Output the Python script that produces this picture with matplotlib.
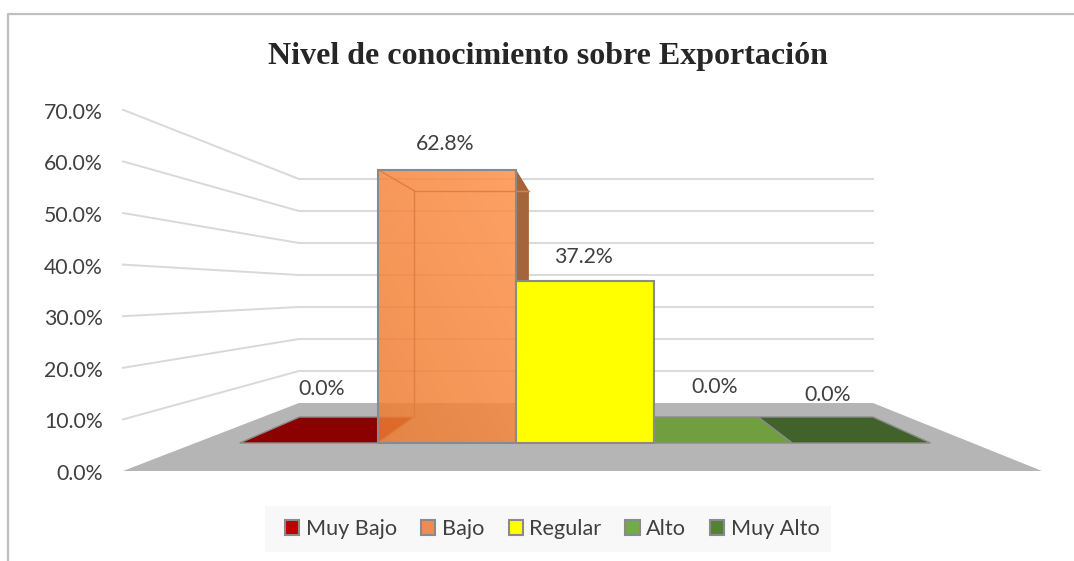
import numpy as np
import matplotlib
matplotlib.use('Agg')
import matplotlib.pyplot as plt
from matplotlib.patches import Patch, Polygon, Rectangle

categorias = ['Muy Bajo', 'Bajo', 'Regular', 'Alto', 'Muy Alto']
valores = [0.0, 62.8, 37.2, 0.0, 0.0]
ticks = [0, 10, 20, 30, 40, 50, 60, 70]

col_piso = ['#8B0000', '#ED7D31', '#FFFF00', '#6F9F3F', '#41622A']
col_leyenda = ['#C00000', '#F08C50', '#FFFF00', '#70AD47', '#548235']
GRIS = '#8A8A8A'
TEXTO = '#404040'

plt.rcParams['font.family'] = ['Lato', 'DejaVu Sans']

# perspectiva del grafico 3D: d=0 frente del piso, d=1 fondo
D_FRENTE, D_FONDO = 0.412, 0.794

def proy(u, d, v=0):
    izq = 123 + 176 * d
    der = 1042 - 169 * d
    return izq + (der - izq) * u, 471 - 68 * d - v * (5.16 - 1.96 * d)

def cat_u(i):
    return 0.057 + 0.889 * i / len(categorias)

fig = plt.figure(figsize=(10.74, 5.61), dpi=100)
ax = fig.add_axes([0, 0, 1, 1])
ax.set_xlim(0, 1074)
ax.set_ylim(561, 0)
ax.axis('off')

# marco
ax.plot([8, 8, 1074], [561, 14, 14], color='#BFBFBF', lw=1.6, zorder=1)

# lineas de la pared
for t in ticks[1:]:
    xs = [proy(0, 0, t)[0], proy(0, 1, t)[0], proy(1, 1, t)[0]]
    ys = [proy(0, 0, t)[1], proy(0, 1, t)[1], proy(1, 1, t)[1]]
    ax.plot(xs, ys, color='#D9D9D9', lw=1.4, zorder=2)

for t in ticks:
    ax.text(103, proy(0, 0, t)[1] + 3, f'{t:.1f}%', ha='right', va='center', fontsize=15.3, color=TEXTO)

# piso
ax.add_patch(Polygon([proy(0, 0), proy(1, 0), proy(1, 1), proy(0, 1)], fc='#B5B5B5', ec='none', zorder=3))
for i, c in enumerate(col_piso):
    celda = [proy(cat_u(i), D_FRENTE), proy(cat_u(i + 1), D_FRENTE), proy(cat_u(i + 1), D_FONDO), proy(cat_u(i), D_FONDO)]
    if valores[i] == 0:
        ax.add_patch(Polygon(celda, fc=c, ec=GRIS, lw=1.0, zorder=4))

# barras
for i, v in enumerate(valores):
    if v == 0:
        continue
    u0, u1 = cat_u(i), cat_u(i + 1)
    z = 5 + i
    fr = [proy(u0, D_FRENTE), proy(u1, D_FRENTE), proy(u1, D_FRENTE, v), proy(u0, D_FRENTE, v)]
    fo = [proy(u0, D_FONDO), proy(u1, D_FONDO), proy(u1, D_FONDO, v), proy(u0, D_FONDO, v)]
    if col_piso[i] == '#ED7D31':
        # cara lateral y aristas internas, la barra naranja es translucida
        ax.add_patch(Polygon([fr[2], fo[2], fo[1], fr[1]], fc='#A5653A', ec='none', zorder=z))
        xs = np.linspace(0, 1, 64)
        grad = np.zeros((64, 64, 4))
        ini, fin = np.array(matplotlib.colors.to_rgb('#ED7D31')), np.array(matplotlib.colors.to_rgb('#FD9148'))
        for a in range(64):
            for b in range(64):
                grad[a, b, :3] = ini + (fin - ini) * (xs[b] + (1 - xs[a])) / 2
        grad[:, :, 3] = 0.85
        ax.imshow(grad, extent=[fr[0][0], fr[1][0], fr[0][1], fr[3][1]], aspect='auto', zorder=z + 0.1, origin='upper')
        ax.set_xlim(0, 1074)
        ax.set_ylim(561, 0)
        for p, q in [(fr[3], fo[3]), (fo[3], fo[0]), (fo[3], fo[2])]:
            ax.plot([p[0], q[0]], [p[1], q[1]], color='#E07F42', lw=1.0, zorder=z + 0.2)
        ax.add_patch(Polygon(fr, fc='none', ec=GRIS, lw=1.5, zorder=z + 0.3))
    else:
        ax.add_patch(Polygon(fr, fc=col_piso[i], ec=GRIS, lw=1.5, zorder=z))

# etiquetas de datos
pos_etq = [(322, 389), (445, 144), (583, 257), (715, 387), (828, 395)]
for (x, y), v in zip(pos_etq, valores):
    ax.text(x, y, f'{v:.1f}%', ha='center', va='center', fontsize=15.3, color=TEXTO, zorder=20)

ax.text(548, 56, 'Nivel de conocimiento sobre Exportación', ha='center', va='center',
        fontsize=23, fontweight='bold', color='#262626', family='Liberation Serif')

# leyenda con fondo propio
ax.add_patch(Rectangle((265, 506), 566, 46, fc='#F8F8F8', ec='none', zorder=1))
handles = [Patch(fc=c, ec=GRIS, lw=1.5, label=n) for c, n in zip(col_leyenda, categorias)]
leg = ax.legend(handles=handles, ncol=5, loc='center', bbox_to_anchor=(552.5 / 1074, 1 - 529 / 561),
                frameon=False, fontsize=15.6, labelcolor=TEXTO, handlelength=0.65, handleheight=0.65,
                handletextpad=0.3, columnspacing=1.12, borderpad=0, borderaxespad=0)

plt.savefig('out.png', dpi=100)
plt.close()
